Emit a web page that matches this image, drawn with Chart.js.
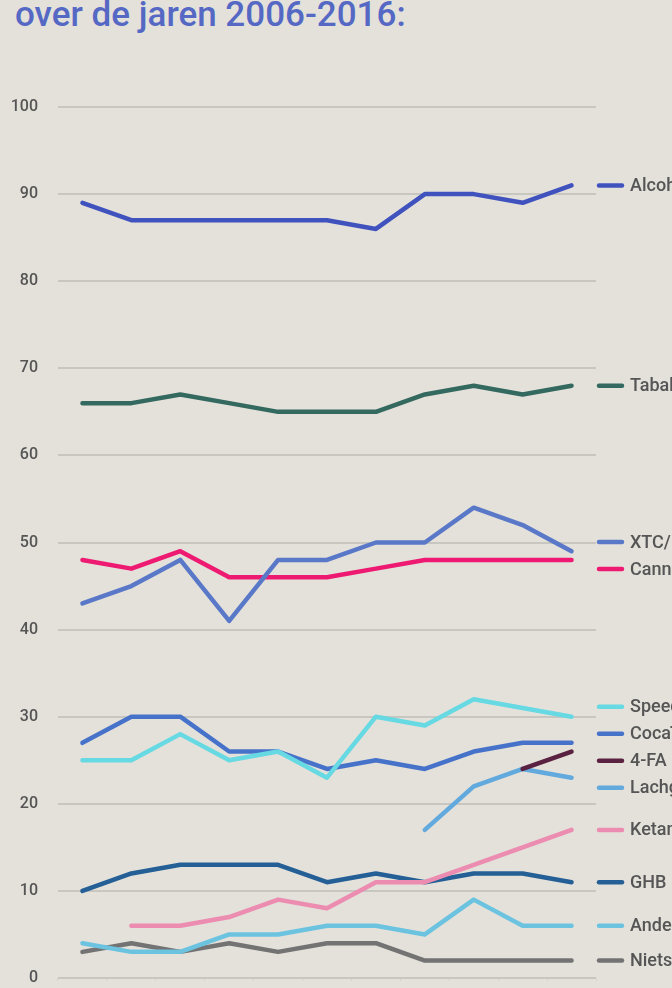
<!DOCTYPE html>
<html>
<head>
<meta charset="utf-8">
<script src="https://cdn.jsdelivr.net/npm/chart.js@4.4.1/dist/chart.umd.min.js"></script>
<style>
body { margin: 0; background: #e4e1db; overflow: hidden; width: 672px; height: 988px; position: relative; }
#titel { position: absolute; left: 15px; top: -2px; font-family: Roboto, sans-serif; font-weight: 500; font-size: 35px; line-height: 34px; color: #5468c4; white-space: nowrap; }
canvas { position: absolute; left: 0; top: 0; }
</style>
</head>
<body>
<div id="titel">over de jaren 2006-2016:</div>
<canvas id="myChart" width="672" height="1011"></canvas>
<script>
var jaren = ["2006", "2007", "2008", "2009", "2010", "2011", "2012", "2013", "2014", "2015", "2016"];

var alcohol  = [89, 87, 87, 87, 87, 87, 86, 90, 90, 89, 91];
var tabak    = [66, 66, 67, 66, 65, 65, 65, 67, 68, 67, 68];
var xtc      = [43, 45, 48, 41, 48, 48, 50, 50, 54, 52, 49];
var cannabis = [48, 47, 49, 46, 46, 46, 47, 48, 48, 48, 48];
var speed    = [25, 25, 28, 25, 26, 23, 30, 29, 32, 31, 30];
var cocaine  = [27, 30, 30, 26, 26, 24, 25, 24, 26, 27, 27];
var vierFa   = [null, null, null, null, null, null, null, null, null, 24, 26];
var lachgas  = [null, null, null, null, null, null, null, 17, 22, 24, 23];
var ketamine = [null, 6, 6, 7, 9, 8, 11, 11, 13, 15, 17];
var ghb      = [10, 12, 13, 13, 13, 11, 12, 11, 12, 12, 11];
var andere   = [4, 3, 3, 5, 5, 6, 6, 5, 9, 6, 6];
var niets    = [3, 4, 3, 4, 3, 4, 4, 2, 2, 2, 2];

var namen = ["Alcohol", "Tabak", "XTC/MDMA", "Cannabis", "Speed", "Cocaïne", "4-FA", "Lachgas", "Ketamine", "GHB", "Andere drugs", "Niets"];
var reeksen = [alcohol, tabak, xtc, cannabis, speed, cocaine, vierFa, lachgas, ketamine, ghb, andere, niets];
var kleuren = ["#4052be", "#33695f", "#5a78c8", "#ee1a72", "#66d9e2", "#4673c9", "#5a2140", "#62aadd", "#ec8cb0", "#245f96", "#6cc3e0", "#737373"];

// labels rechts naast de lijnen, uit elkaar geschoven als ze overlappen
var eindLabels = {
	id: 'eindLabels',
	afterDatasetsDraw: function(chart){
		var ctx = chart.ctx;
		var y = chart.scales.y;
		var x0 = chart.chartArea.right;
		var items = [];
		for (var i = 0; i < chart.data.datasets.length; i++){
			var d = chart.data.datasets[i].data;
			var laatste = d[d.length - 1];
			items.push({ naam: namen[i], kleur: kleuren[i], y: y.getPixelForValue(laatste) });
		}
		items.sort(function(a, b){ return a.y - b.y; });
		var gap = 27;
		for (var k = 0; k < 50; k++){
			for (var j = 1; j < items.length; j++){
				var over = gap - (items[j].y - items[j - 1].y);
				if (over > 0){
					items[j - 1].y -= over / 2;
					items[j].y += over / 2;
				}
			}
		}
		ctx.save();
		ctx.font = "500 18px Roboto";
		ctx.textBaseline = "middle";
		ctx.lineCap = "round";
		ctx.lineWidth = 4.5;
		for (var m = 0; m < items.length; m++){
			ctx.strokeStyle = items[m].kleur;
			ctx.beginPath();
			ctx.moveTo(x0 + 3, items[m].y);
			ctx.lineTo(x0 + 26, items[m].y);
			ctx.stroke();
			ctx.fillStyle = "#555555";
			ctx.fillText(items[m].naam, x0 + 34, items[m].y + 1);
		}
		ctx.restore();
	}
};

var datasets = [];
for (var i = 0; i < reeksen.length; i++){
	datasets.push({
		label: namen[i],
		data: reeksen[i],
		borderColor: kleuren[i],
		backgroundColor: kleuren[i],
		borderWidth: 4.5,
		borderCapStyle: 'round',
		borderJoinStyle: 'round',
		pointRadius: 0,
		tension: 0,
		spanGaps: false
	});
}

var ctx = document.getElementById("myChart");
var myChart = new Chart(ctx, {
	type: 'line',
	data: { labels: jaren, datasets: datasets },
	options: {
		responsive: false,
		animation: false,
		layout: { padding: { top: 107, right: 76, left: 0, bottom: 0 } },
		plugins: { legend: { display: false }, tooltip: { enabled: false } },
		scales: {
			x: {
				offset: true,
				border: { display: false },
				grid: { drawOnChartArea: false, drawTicks: true, tickLength: 3, color: "#d6d3cd", offset: true },
				ticks: { display: false },
				afterFit: function(scale){ scale.height = 33; }
			},
			y: {
				min: 0,
				max: 100,
				border: { display: false },
				grid: { color: "#c8c6c1", lineWidth: 2, drawTicks: false },
				ticks: { stepSize: 10, padding: 20, color: "#555555", font: { family: "Roboto", size: 16, weight: 500 } },
				afterFit: function(scale){ scale.width = 58; }
			}
		}
	},
	plugins: [eindLabels]
});
</script>
</body>
</html>
